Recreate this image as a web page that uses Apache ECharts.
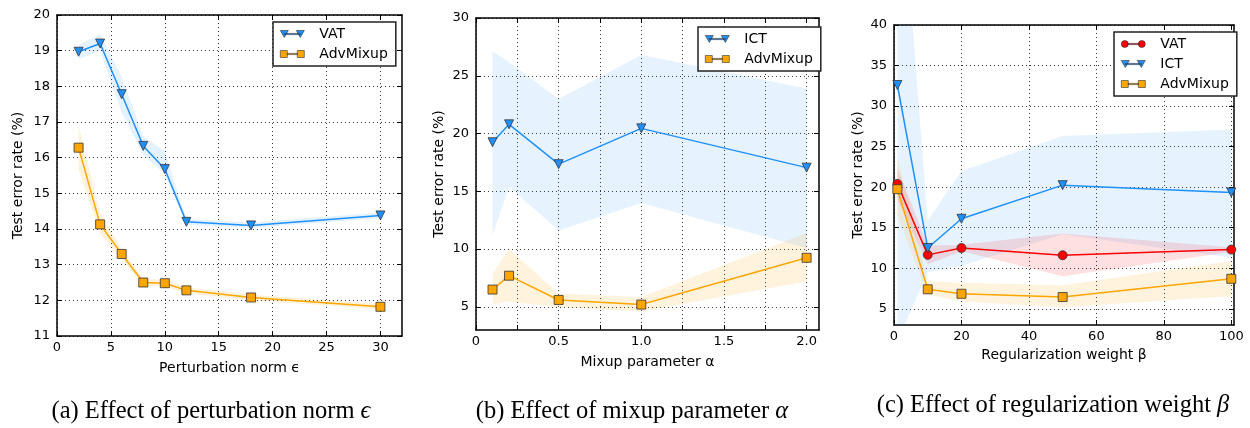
<!DOCTYPE html>
<html>
<head>
<meta charset="utf-8">
<script src="https://cdn.jsdelivr.net/npm/echarts@6/dist/echarts.min.js"></script>
<style>
  html, body { margin: 0; padding: 0; background: #fff; }
  #chart { width: 1250px; height: 428px; }
</style>
</head>
<body>
<div id="chart"></div>
<script>
// (a) perturbation norm
const epsA = [2, 4, 6, 8, 10, 12, 18, 30];
const vatA = [18.97, 19.2, 17.78, 16.33, 15.68, 14.2, 14.1, 14.38];
const vatALo = [18.76, 19.0, 17.26, 16.08, 15.54, 14.12, 14.03, 14.3];
const vatAHi = [19.16, 19.46, 18.26, 16.6, 16.18, 14.28, 14.18, 14.46];
const advA = [16.28, 14.13, 13.3, 12.5, 12.48, 12.28, 12.08, 11.82];
const advALo = [15.66, 13.88, 13.15, 12.41, 12.39, 12.19, 12.0, 11.75];
const advAHi = [16.91, 14.45, 13.45, 12.6, 12.58, 12.37, 12.16, 11.9];
const xTicksA = [0, 5, 10, 15, 20, 25, 30];
const yTicksA = [11, 12, 13, 14, 15, 16, 17, 18, 19, 20];

// (b) mixup parameter
const alphaB = [0.1, 0.2, 0.5, 1.0, 2.0];
const ictB = [19.25, 20.8, 17.35, 20.45, 17.05];
const ictBLo = [11.2, 15.4, 11.6, 14.0, 10.1];
const ictBHi = [27.1, 26.2, 23.0, 26.8, 23.9];
const advB = [6.5, 7.7, 5.6, 5.2, 9.25];
const advBLo = [5.2, 5.45, 5.0, 4.6, 7.2];
const advBHi = [7.9, 10.0, 6.15, 5.85, 11.4];
const xTicksB = [0, 0.25, 0.5, 0.75, 1.0, 1.25, 1.5, 1.75, 2.0];
const xLabelsB = [0, 0.5, 1.0, 1.5, 2.0];
const yTicksB = [5, 10, 15, 20, 25, 30];

// (c) regularization weight
const betaC = [1, 10, 20, 50, 100];
const vatC = [20.4, 11.65, 12.5, 11.6, 12.3];
const vatCLo = [18.5, 10.5, 12.1, 9.0, 12.0];
const vatCHi = [22.4, 12.8, 12.9, 14.3, 12.6];
const ictC = [32.6, 12.5, 16.1, 20.25, 19.35];
const ictCLo = [1.0, 9.5, 10.3, 14.2, 11.3];
const ictCHi = [64.0, 15.9, 22.0, 26.3, 27.1];
const advC = [19.75, 7.4, 6.85, 6.45, 8.7];
const advCLo = [16.6, 6.75, 5.9, 5.2, 6.55];
const advCHi = [23.8, 8.4, 8.2, 7.9, 10.9];
const xTicksC = [0, 20, 40, 60, 80, 100];
const yTicksC = [5, 10, 15, 20, 25, 30, 35, 40];

const BLUE = '#1e90ff', ORANGE = '#ffa500', RED = '#ff0000';
const SANS = 'DejaVu Sans';
const SERIF = 'Liberation Serif';

const triIcon = 'path://M0,0L8,0L4,7ZM16,0L24,0L20,7ZM4,2.9L20,2.9L20,4.1L4,4.1Z';
const sqIcon = 'path://M0,0L7,0L7,7L0,7ZM17,0L24,0L24,7L17,7ZM7,2.9L17,2.9L17,4.1L7,4.1Z';
const dotIcon = 'path://M0,3.5A3.5,3.5,0,1,1,7,3.5A3.5,3.5,0,1,1,0,3.5ZM17,3.5A3.5,3.5,0,1,1,24,3.5A3.5,3.5,0,1,1,17,3.5ZM6,2.9L18,2.9L18,4.1L6,4.1Z';

const zip = (xs, ys) => xs.map((x, i) => [x, ys[i]]);

const grids = [
  { left: 57, top: 15, width: 345, height: 321 },
  { left: 476, top: 18, width: 343, height: 312 },
  { left: 894, top: 25, width: 340, height: 300 }
];

const tickStyle = { color: '#000', width: 1 };
const gridLine = { show: true, lineStyle: { color: '#000', width: 0.8, type: [1, 3] } };
const frameLine = { show: true, onZero: false, lineStyle: { color: '#000', width: 1.5 } };
const tickLabel = { fontFamily: SANS, fontSize: 13, color: '#000' };
const nameStyle = { fontFamily: SANS, fontSize: 14, color: '#000' };

const xAxes = [], yAxes = [];
function addAxes(gi, xr, yr) {
  xAxes.push({
    type: 'value', gridIndex: gi, min: xr.min, max: xr.max, position: 'bottom',
    name: xr.name, nameLocation: 'middle', nameGap: xr.gap, nameTextStyle: nameStyle,
    axisLine: frameLine,
    axisTick: { inside: true, length: 5, customValues: xr.ticks, lineStyle: tickStyle },
    axisLabel: Object.assign({ customValues: xr.labels || xr.ticks, margin: 5, formatter: xr.fmt }, tickLabel),
    splitLine: gridLine
  });
  xAxes.push({
    type: 'value', gridIndex: gi, min: xr.min, max: xr.max, position: 'top',
    axisLine: frameLine,
    axisTick: { inside: true, length: 5, customValues: xr.ticks, lineStyle: tickStyle },
    axisLabel: { show: false }, splitLine: { show: false }
  });
  yAxes.push({
    type: 'value', gridIndex: gi, min: yr.min, max: yr.max, position: 'left',
    name: 'Test error rate (%)', nameLocation: 'middle', nameGap: yr.gap, nameTextStyle: nameStyle,
    axisLine: frameLine,
    axisTick: { inside: true, length: 5, customValues: yr.ticks, lineStyle: tickStyle },
    axisLabel: Object.assign({ customValues: yr.ticks, margin: 7 }, tickLabel),
    splitLine: gridLine
  });
  yAxes.push({
    type: 'value', gridIndex: gi, min: yr.min, max: yr.max, position: 'right',
    axisLine: frameLine,
    axisTick: { inside: true, length: 5, customValues: yr.ticks, lineStyle: tickStyle },
    axisLabel: { show: false }, splitLine: { show: false }
  });
}

addAxes(0,
  { min: 0, max: 32, ticks: xTicksA, name: 'Perturbation norm ϵ', gap: 25 },
  { min: 11, max: 20, ticks: yTicksA, gap: 32 });
addAxes(1,
  { min: 0, max: 2.075, ticks: xTicksB, labels: xLabelsB, name: 'Mixup parameter α', gap: 25,
    fmt: v => (v === 0 ? '0' : v.toFixed(1)) },
  { min: 3, max: 30, ticks: yTicksB, gap: 30 });
addAxes(2,
  { min: 0, max: 100.8, ticks: xTicksC, name: 'Regularization weight β', gap: 23 },
  { min: 3, max: 40, ticks: yTicksC, gap: 29 });

const series = [];
// shaded band: one polygon through (x, lo) forward and (x, hi) back, clipped to the grid
function addBand(gi, xs, lo, hi, fill) {
  series.push({
    type: 'custom', xAxisIndex: gi * 2, yAxisIndex: gi * 2, silent: true, z: 1,
    data: xs.map((x, i) => [x, lo[i], hi[i]]),
    encode: { x: 0, y: [1, 2] },
    renderItem: (params, api) => {
      if (params.dataIndex !== 0) return;
      const n = params.dataInsideLength;
      const pts = [];
      for (let j = 0; j < n; j++) pts.push(api.coord([api.value(0, j), api.value(1, j)]));
      for (let j = n - 1; j >= 0; j--) pts.push(api.coord([api.value(0, j), api.value(2, j)]));
      const cs = params.coordSys;
      return {
        type: 'polygon', shape: { points: pts }, style: { fill },
        clipPath: { type: 'rect', shape: { x: cs.x, y: cs.y, width: cs.width, height: cs.height } }
      };
    }
  });
}
function addLine(gi, name, xs, ys, color, symbol, size, rotate) {
  series.push({
    type: 'line', name, xAxisIndex: gi * 2, yAxisIndex: gi * 2,
    data: zip(xs, ys), symbol, symbolSize: size, symbolRotate: rotate || 0,
    showSymbol: true, clip: true, z: 3,
    itemStyle: { color, borderColor: '#333', borderWidth: 0.8 },
    lineStyle: { color, width: 1.5 }
  });
}

addBand(0, epsA, vatALo, vatAHi, 'rgba(30,144,255,0.12)');
addBand(0, epsA, advALo, advAHi, 'rgba(255,165,0,0.14)');
addLine(0, 'VAT', epsA, vatA, BLUE, 'triangle', 9, 180);
addLine(0, 'AdvMixup', epsA, advA, ORANGE, 'rect', 9);

addBand(1, alphaB, ictBLo, ictBHi, 'rgba(30,144,255,0.11)');
addBand(1, alphaB, advBLo, advBHi, 'rgba(255,165,0,0.13)');
addLine(1, 'ICT', alphaB, ictB, BLUE, 'triangle', 9, 180);
addLine(1, 'AdvMixup ', alphaB, advB, ORANGE, 'rect', 9);

addBand(2, betaC, ictCLo, ictCHi, 'rgba(30,144,255,0.11)');
addBand(2, betaC, vatCLo, vatCHi, 'rgba(255,0,0,0.12)');
addBand(2, betaC, advCLo, advCHi, 'rgba(255,165,0,0.13)');
addLine(2, 'VAT ', betaC, vatC, RED, 'circle', 9);
addLine(2, 'ICT ', betaC, ictC, BLUE, 'triangle', 9, 180);
addLine(2, 'AdvMixup  ', betaC, advC, ORANGE, 'rect', 9);

function legendAt(left, top, items) {
  return {
    left, top, orient: 'vertical', padding: [5, 8, 5, 7], itemGap: 6,
    itemWidth: 24, itemHeight: 14, selectedMode: false,
    borderColor: '#222', borderWidth: 1.5, backgroundColor: '#fff',
    textStyle: { fontFamily: SANS, fontSize: 14, color: '#000', padding: [0, 0, 0, 10] },
    formatter: n => n.trim(),
    data: items.map(([name, icon, color]) => ({
      name, icon, itemStyle: { color, borderColor: '#333', borderWidth: 0.6 }
    }))
  };
}

const caption = (x, y, lead, sym) => ({
  text: '{n|' + lead + '}{i|' + sym + '}', left: x, top: y, textAlign: 'center',
  textStyle: {
    fontWeight: 'normal',
    rich: {
      n: { fontFamily: SERIF, fontSize: 24.5, fontWeight: 'normal', color: '#000' },
      i: { fontFamily: SERIF, fontSize: 24.5, fontWeight: 'normal', fontStyle: 'italic', color: '#000' }
    }
  }
});

const chart = echarts.init(document.getElementById('chart'), null, { renderer: 'canvas' });
chart.setOption({
  animation: false,
  backgroundColor: '#fff',
  title: [
    caption(206, 394, '(a) Effect of perturbation norm ', 'ϵ'),
    caption(627, 394, '(b) Effect of mixup parameter ', 'α'),
    caption(1048, 388, '(c) Effect of regularization weight ', 'β')
  ],
  legend: [
    legendAt(273, 22, [['VAT', triIcon, BLUE], ['AdvMixup', sqIcon, ORANGE]]),
    legendAt(698, 27, [['ICT', triIcon, BLUE], ['AdvMixup ', sqIcon, ORANGE]]),
    legendAt(1114, 32, [['VAT ', dotIcon, RED], ['ICT ', triIcon, BLUE], ['AdvMixup  ', sqIcon, ORANGE]])
  ],
  grid: grids,
  xAxis: xAxes,
  yAxis: yAxes,
  series
});
</script>
</body>
</html>
